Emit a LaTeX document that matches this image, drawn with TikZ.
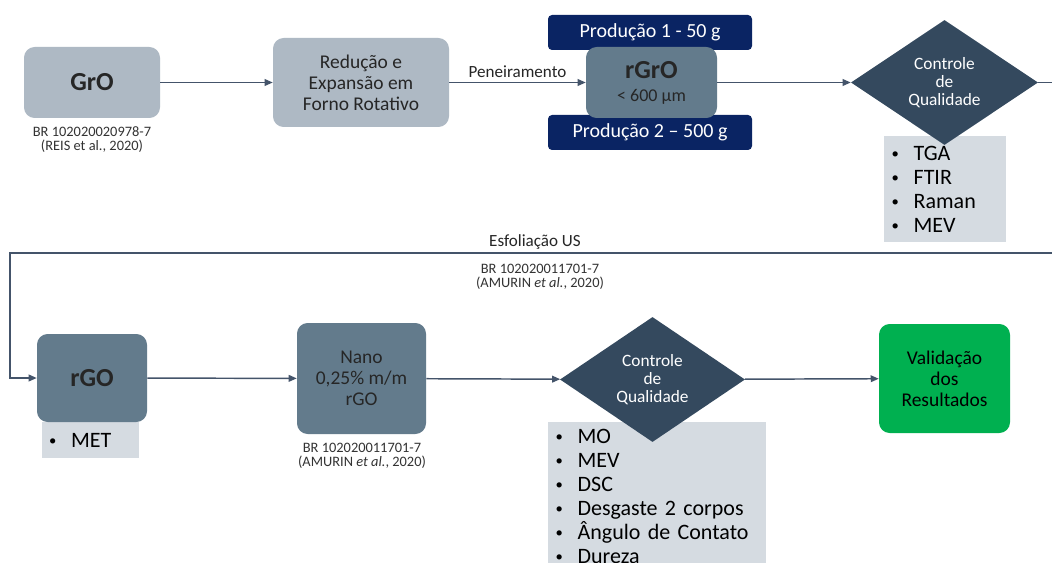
\documentclass[tikz,border=0pt]{standalone}
\usepackage{fontspec}
\setmainfont{Carlito}
\usetikzlibrary{arrows.meta,shapes.geometric}
\definecolor{linha}{HTML}{44546A}
\definecolor{cinzaclaro}{HTML}{AEB9C4}
\definecolor{cinzamedio}{HTML}{637B8C}
\definecolor{marinho}{HTML}{0A2463}
\definecolor{losango}{HTML}{34495E}
\definecolor{listafundo}{HTML}{D5DBE1}
\definecolor{verde}{HTML}{00B050}
\newcommand{\pto}{\raisebox{1.5pt}{\fontsize{11}{11}\selectfont\textbullet}\hspace{11pt}}
\begin{document}
\begin{tikzpicture}[x=0.75pt,y=-0.75pt,>={Triangle[length=6pt,width=5pt]},
    caixa/.style={rectangle,rounded corners=8pt,align=center,inner sep=2pt,text=black!85,
        font=\fontsize{14.6}{15.75}\selectfont},
    clara/.style={caixa,fill=cinzaclaro},
    media/.style={caixa,fill=cinzamedio},
    titulo/.style={font=\fontsize{19.5}{22}\selectfont\bfseries},
    producao/.style={rectangle,rounded corners=3pt,fill=marinho,text=white,
        minimum width=153pt,minimum height=26.25pt,font=\fontsize{15}{17}\selectfont},
    controle/.style={diamond,fill=losango,text=white,inner sep=0pt,align=center,
        font=\fontsize{13}{13.5}\selectfont},
    lista/.style={rectangle,fill=listafundo,align=left,inner sep=0pt,
        font=\fontsize{16.5}{18}\selectfont},
    ref/.style={align=center,font=\fontsize{10.8}{10.5}\selectfont,text=black!80},
    rotulo/.style={font=\fontsize{12.8}{14}\selectfont,text=black!85},
    fluxo/.style={->,draw=linha,line width=1.1pt}]
  \clip (0,0) rectangle (1052,563);
  \fill[white] (0,0) rectangle (1052,563);

  % primeira linha
  \node[clara,titulo,minimum width=102pt,minimum height=53.25pt] (gro) at (92,82.5) {GrO};
  \node[ref] (refreis) at (92,140) {BR 102020020978-7\\(REIS et al., 2020)};
  \node[clara,minimum width=132pt,minimum height=66.75pt] (forno) at (361,82.5)
      {Redução e\\Expansão em\\Forno Rotativo};
  \node[producao] (prod1) at (650,32.5) {Produção 1 - 50 g};
  \node[producao] (prod2) at (650,132.5) {Produção 2 -- 500 g};
  \node[media,minimum width=98.25pt,minimum height=53.25pt] (rgro) at (651.5,82.5)
      {{\fontsize{19.5}{22}\selectfont\bfseries rGrO}\\[1.5pt]{\fontsize{13.5}{15}\selectfont < 600 µm}};
  \node[lista,minimum width=91.5pt,minimum height=79.5pt,text width=80pt] (testes1) at (945,189)
      {\pto TGA\\\pto FTIR\\\pto Raman\\\pto MEV};
  \node[controle,minimum width=140.25pt,minimum height=93.75pt] (qual1) at (944.5,82.5)
      {Controle\\de\\Qualidade};

  \draw[fluxo] (gro) -- (forno);
  \draw[fluxo] (forno) -- node[rotulo,above,pos=0.5] {Peneiramento} (rgro);
  \draw[fluxo] (rgro) -- (qual1);

  % retorno
  \coordinate (volta) at (1070,253);
  \coordinate (desce) at (10,253);
  \node[rotulo] (esfol) at (535,242) {Esfoliação US};
  \node[ref] (refamurin1) at (540,277) {BR 102020011701-7\\(AMURIN \textit{et al.}, 2020)};

  % segunda linha
  \node[lista,minimum width=72.75pt,minimum height=27pt,text width=62pt] (met) at (90.5,440)
      {\pto MET};
  \node[media,titulo,minimum width=82.5pt,minimum height=66pt] (rgo) at (92,378) {rGO};
  \node[media,minimum width=96.75pt,minimum height=83.25pt] (nano) at (361.5,378.5)
      {Nano\\0,25\% m/m\\rGO};
  \node[ref] (refamurin2) at (362,456) {BR 102020011701-7\\(AMURIN \textit{et al.}, 2020)};
  \node[lista,minimum width=163.5pt,minimum height=111pt,text width=152pt] (testes2) at (657,496)
      {\pto MO\\\pto MEV\\\pto DSC\\\pto Desgaste 2 corpos\\\pto Ângulo de Contato\\\pto Dureza};
  \node[controle,minimum width=138.75pt,minimum height=93.75pt] (qual2) at (652.5,379.5)
      {Controle\\de\\Qualidade};
  \node[caixa,fill=verde,minimum width=98.25pt,minimum height=81.75pt,text=black]
      (valid) at (944.5,378.5) {Validação\\dos\\Resultados};

  \draw[fluxo] (qual1.east) -| (volta) -- (desce) |- (rgo.west);
  \draw[fluxo] (rgo) -- (nano);
  \draw[fluxo] (nano) -- (qual2);
  \draw[fluxo] (qual2) -- (valid);
\end{tikzpicture}
\end{document}
